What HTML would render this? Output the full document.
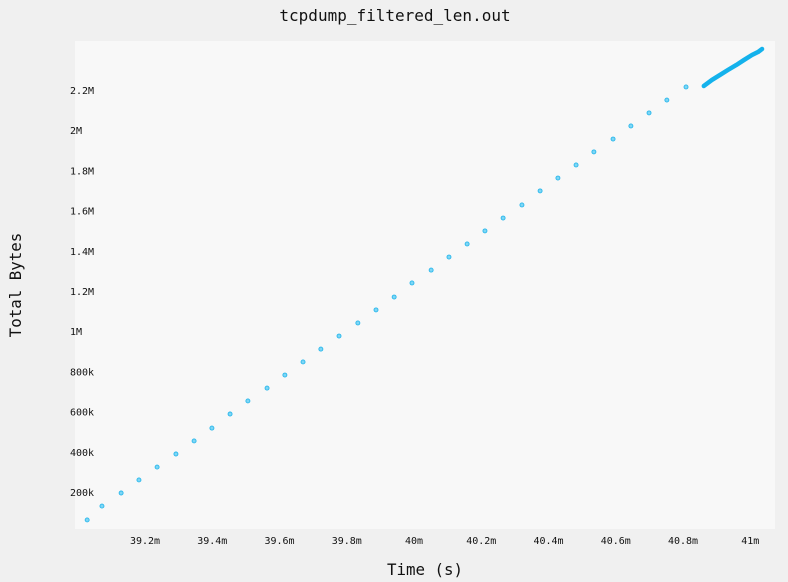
<!DOCTYPE html>
<html><head><meta charset="utf-8"><style>
body{margin:0;background:#f0f0f0;}
svg{display:block;font-family:"DejaVu Sans Mono","Liberation Mono",monospace;}
</style></head><body>
<svg id="chart" width="788" height="582" viewBox="0 0 788 582">
<rect x="0" y="0" width="788" height="582" fill="#f0f0f0"/>
<rect x="75" y="41" width="700" height="488" fill="#f8f8f8"/>
<text x="395" y="21" font-size="16" text-anchor="middle" fill="#111">tcpdump_filtered_len.out</text>
<text x="425" y="575" font-size="15.8" text-anchor="middle" fill="#111">Time (s)</text>
<text x="0" y="0" font-size="15.8" text-anchor="middle" fill="#111" transform="translate(21,285) rotate(-90)">Total Bytes</text>
<g id="xt"></g><g id="yt"></g><g id="marks"></g>
</svg>
<script>
const xTicks=[39.2,39.4,39.6,39.8,40,40.2,40.4,40.6,40.8,41];
const xTickLabels=["39.2m","39.4m","39.6m","39.8m","40m","40.2m","40.4m","40.6m","40.8m","41m"];
const yTicks=[0.2,0.4,0.6,0.8,1,1.2,1.4,1.6,1.8,2,2.2];
const yTickLabels=["200k","400k","600k","800k","1M","1.2M","1.4M","1.6M","1.8M","2M","2.2M"];
const times=[39.028,39.072,39.129,39.182,39.236,39.292,39.346,39.399,39.453,39.506,39.563,39.616,39.670,39.723,39.777,39.833,39.887,39.941,39.994,40.051,40.104,40.158,40.211,40.265,40.321,40.375,40.428,40.482,40.535,40.592,40.645,40.699,40.752,40.809];
const bytes=[0.061,0.130,0.195,0.260,0.324,0.389,0.454,0.518,0.588,0.653,0.717,0.782,0.847,0.911,0.976,1.041,1.106,1.170,1.240,1.304,1.369,1.434,1.499,1.563,1.628,1.698,1.762,1.827,1.892,1.956,2.021,2.086,2.150,2.215];
const denseTimes=[40.862,40.886,40.910,40.934,40.958,40.981,41.005,41.023,41.035];
const denseBytes=[2.220,2.250,2.275,2.300,2.324,2.349,2.374,2.389,2.404];
const NS="http://www.w3.org/2000/svg";
const xs=t=>145+(t-39.2)*336.25;
const ys=v=>492-(v-0.2)*201;
function mk(tag,attrs,parent){const e=document.createElementNS(NS,tag);for(const k in attrs)e.setAttribute(k,attrs[k]);parent.appendChild(e);return e;}
const xt=document.getElementById('xt'),yt=document.getElementById('yt'),marks=document.getElementById('marks');
xTicks.forEach((t,i)=>{const e=mk('text',{x:xs(t),y:544,'font-size':10,'text-anchor':'middle',fill:'#111'},xt);


e.textContent=xTickLabels[i];});
yTicks.forEach((v,i)=>{const e=mk('text',{x:70,y:ys(v)+4,'font-size':10,fill:'#111'},yt);


e.textContent=yTickLabels[i];});
times.forEach((t,i)=>{const c=mk('circle',{cx:xs(t),cy:ys(bytes[i]),r:2,fill:'#7ed6f5',stroke:'#2ab8ec','stroke-width':0.9},marks);

});
const pts=denseTimes.map((t,i)=>xs(t)+','+ys(denseBytes[i])).join(' ');
const pl=mk('polyline',{points:pts,fill:'none',stroke:'#14b2ec','stroke-width':4.5,'stroke-linecap':'round','stroke-linejoin':'round'},marks);


</script>
</body></html>
